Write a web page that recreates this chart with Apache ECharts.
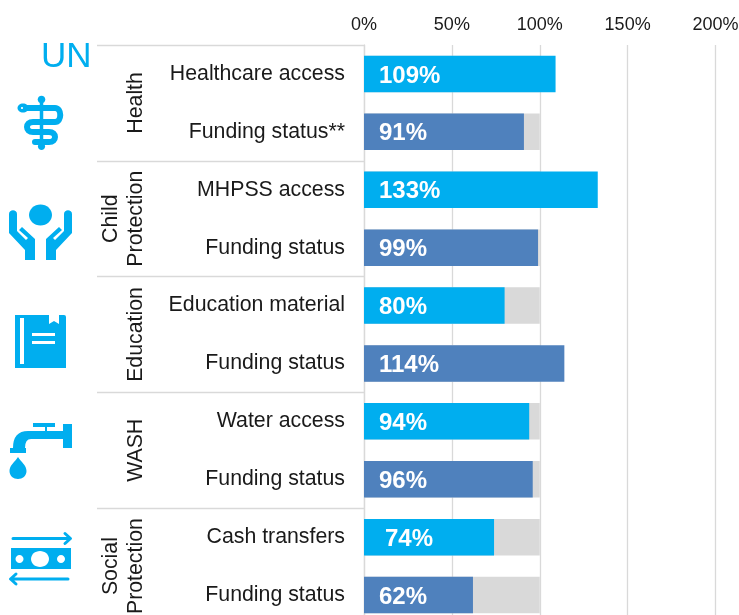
<!DOCTYPE html>
<html>
<head>
<meta charset="utf-8">
<style>html,body{margin:0;padding:0;background:#fff}#c{width:739px;height:615px}</style>
<script src="https://cdn.jsdelivr.net/npm/echarts@6/dist/echarts.min.js"></script>
</head>
<body>
<div id="c"></div>
<script>
const categories = ['Healthcare access','Funding status**','MHPSS access','Funding status','Education material','Funding status','Water access','Funding status','Cash transfers','Funding status'];
const groups = ['Health','Child\nProtection','Education','WASH','Social\nProtection'];
const achieved = [109,91,133,99,80,114,94,96,74,62];
const target = [100,100,100,100,100,100,100,100,100,100];
const tickValues = [0,50,100,150,200];

const FONT = '"Liberation Sans", Arial, sans-serif';
const CYAN = '#00AEEF', BLUE = '#4F81BD', GREY = '#D9D9D9', LINE = '#D9D9D9', TEXT = '#1a1a1a';

let shapeId = 0;
function pathType(d) {
  const name = 'iconPath' + (shapeId++);
  echarts.graphic.registerShape(name, echarts.graphic.extendPath(d, {}));
  return name;
}
function fillPath(d, color) {
  return { type:pathType(d), silent:true, style:{ fill: color || CYAN } };
}
function strokePath(d, w) {
  return { type:pathType(d), silent:true, style:{ fill:'none', stroke:CYAN, lineWidth:w, lineCap:'round', lineJoin:'round' } };
}
function ell(cx, cy, rx, ry, color) {
  return { type:'ellipse', silent:true, shape:{ cx, cy, rx, ry }, style:{ fill: color || CYAN } };
}
const icons = [
  { type:'text', silent:true, left:41, top:40, style:{ text:'UN', font:'35px '+FONT, fill:CYAN } },
  // staff and serpent
  ell(41.5,99.5,3.8,3.8),
  strokePath('M41.5 100L41.5 146',3.5),
  ell(41.5,146.5,3.6,3.4),
  strokePath('M24 108L55 108C62 108 62 122 55 122L33 122C25 122 25 132 33 132L49 132C57 132 57 142 49 142L35 142',6),
  ell(23,108,5.5,4.5),
  ell(22,108,1,1,'#fff'),
  // hands
  ell(40.5,215,11.5,10.5),
  fillPath('M9 214C9 209 17 209 17 214L17 231L26 240L28 238L19 230L22 227L35 239L35 260L25 260L25 250L9 233Z'),
  fillPath('M72 214C72 209 64 209 64 214L64 231L55 240L53 238L62 230L59 227L46 239L46 260L56 260L56 250L72 233Z'),
  // book
  fillPath('M15 315L49 315L49 324L54 321L59 324L59 315L64 315Q66 315 66 317L66 368L15 368Z'),
  { type:'rect', silent:true, shape:{ x:20, y:318, width:4, height:46 }, style:{ fill:'#fff' } },
  { type:'rect', silent:true, shape:{ x:32, y:333, width:23, height:3 }, style:{ fill:'#fff' } },
  { type:'rect', silent:true, shape:{ x:32, y:341, width:23, height:3 }, style:{ fill:'#fff' } },
  // tap
  fillPath('M63 424L72 424L72 448L63 448L63 439L31 439Q25 439 25 448L26 448L26 453L10 453L10 448L13 448Q13 431 28 431L45 431L45 427L33 427L33 423L55 423L55 427L47 427L47 431L63 431Z'),
  fillPath('M18 457C21 462 26.5 465 26.5 471C26.5 476 22.5 479 18 479C13.5 479 9.5 476 9.5 471C9.5 465 15 462 18 457Z'),
  // cash transfers
  { type:'rect', silent:true, shape:{ x:11, y:548, width:60, height:21 }, style:{ fill:CYAN } },
  ell(40,559,9,8,'#fff'),
  ell(19.5,559,4,4,'#fff'),
  ell(61,559,4,4,'#fff'),
  strokePath('M13 538.5L70 538.5M65 533.5L70.5 538.5L65 543.5',3),
  strokePath('M68 579L11 579M16 574L10.5 579L16 584',3)
];

const option = {
  animation:false,
  textStyle:{ fontFamily:FONT },
  grid:{ left:364, top:45, width:351.5, height:579, containLabel:false, outerBoundsMode:'none' },
  xAxis:{
    type:'value', position:'top', min:0, max:200, interval:50,
    axisLine:{ show:false }, axisTick:{ show:false },
    splitLine:{ show:true, lineStyle:{ color:LINE, width:1.3 } },
    axisLabel:{ color:TEXT, fontSize:18, fontFamily:FONT, margin:11, formatter:v => tickValues.includes(v) ? v+'%' : '' }
  },
  yAxis:[
    {
      type:'category', inverse:true, data:categories,
      axisLine:{ show:true, lineStyle:{ color:LINE, width:1.3 } },
      axisTick:{ show:true, alignWithLabel:false, length:267, interval:i => i % 2 === 0, lineStyle:{ color:LINE, width:1.3 } },
      axisLabel:{ color:TEXT, fontSize:21.3, fontFamily:FONT, margin:19, interval:0, padding:[1,0,0,0] }
    },
    {
      type:'category', inverse:true, position:'left', data:groups,
      axisLine:{ show:false }, axisTick:{ show:false },
      axisLabel:{ color:TEXT, fontSize:21.3, fontFamily:FONT, rotate:90, margin:215, interval:0, lineHeight:25, align:'center' }
    }
  ],
  series:[
    {
      type:'bar', data:target, barWidth:36.5, barGap:'-100%', silent:true,
      itemStyle:{ color:GREY }, label:{ show:false }
    },
    {
      type:'bar', barWidth:36.5, barGap:'-100%', silent:true,
      data:achieved.map((v,i) => ({
        value:v,
        itemStyle:{ color: i % 2 === 0 ? CYAN : BLUE },
        label: v === 74 ? { distance:21 } : undefined
      })),
      label:{ show:true, position:'insideLeft', distance:15, offset:[0,2], formatter:p => p.value+'%', color:'#fff', fontSize:24, fontWeight:'bold', fontFamily:FONT }
    }
  ],
  graphic:{ elements:icons }
};
echarts.init(document.getElementById('c'), null, { renderer:'canvas' }).setOption(option);
</script>
</body>
</html>
